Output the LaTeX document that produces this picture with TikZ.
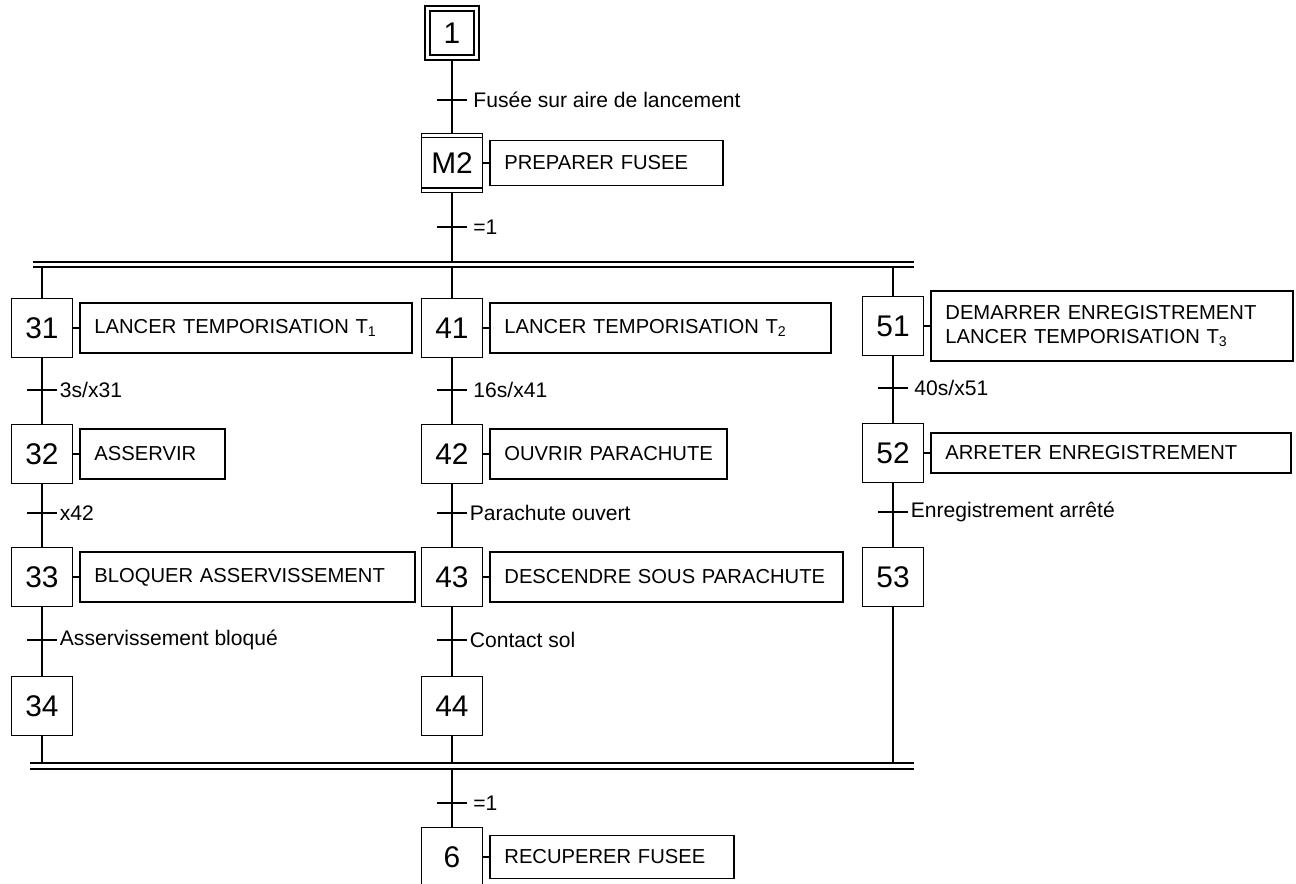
\documentclass[tikz,border=0pt]{standalone}
\usepackage{fontspec}
\setmainfont{Liberation Sans}
\usetikzlibrary{positioning}

\begin{document}
\begin{tikzpicture}[x=0.02cm, y=-0.02cm, line width=1.1pt,
    every node/.style={font=\fontsize{11.5}{13.5}\selectfont},
    etape/.style={rectangle, draw, minimum width=1.22cm, minimum height=1.18cm, inner sep=0pt, font=\fontsize{17}{19}\selectfont},
    initiale/.style={etape, double, double distance=1.6pt, minimum width=0.98cm, minimum height=0.98cm, outer sep=1.9pt},
    action/.style={rectangle, draw, minimum height=1cm, inner xsep=0.28cm, align=left},
    recept/.style={line width=1.3pt},
    cond/.style={right, inner sep=3pt, font=\fontsize{12}{14}\selectfont},
]
\useasboundingbox (0,0) rectangle (1296,884);
\clip (0,0) rectangle (1296,884);

% Etapes
\node[initiale] (s1) at (452,33) {1};
\node[etape] (sM2) at (452,163) {M2};
\node[etape] (s31) at (42,328) {31};
\node[etape] (s32) at (42,454) {32};
\node[etape] (s33) at (42,577) {33};
\node[etape] (s34) at (42,706) {34};
\node[etape] (s41) at (452,328) {41};
\node[etape] (s42) at (452,454) {42};
\node[etape] (s43) at (452,577) {43};
\node[etape] (s44) at (452,706) {44};
\node[etape] (s51) at (893,326) {51};
\node[etape] (s52) at (893,453) {52};
\node[etape] (s53) at (893,577) {53};
\node[etape] (s6) at (452,857) {6};

% Actions
\node[action, right=0.12cm of sM2, text width=4.1cm, minimum height=0.9cm] (aM2) {PREPARER FUSEE};
\node[action, right=0.12cm of s31, text width=6.08cm] (a31) {LANCER TEMPORISATION T\textsubscript{1}};
\node[action, right=0.12cm of s41, text width=6.26cm] (a41) {LANCER TEMPORISATION T\textsubscript{2}};
\node[action, right=0.12cm of s51, text width=6.68cm, minimum height=1.4cm] (a51) {DEMARRER ENREGISTREMENT\\LANCER TEMPORISATION T\textsubscript{3}};
\node[action, right=0.12cm of s32, text width=2.34cm] (a32) {ASSERVIR};
\node[action, right=0.12cm of s42, text width=4.18cm] (a42) {OUVRIR PARACHUTE};
\node[action, right=0.12cm of s52, text width=6.64cm, minimum height=0.8cm] (a52) {ARRETER ENREGISTREMENT};
\node[action, right=0.12cm of s33, text width=6.14cm] (a33) {BLOQUER ASSERVISSEMENT};
\node[action, right=0.12cm of s43, text width=6.5cm] (a43) {DESCENDRE SOUS PARACHUTE};
\node[action, right=0.12cm of s6, text width=4.32cm, minimum height=0.86cm] (a6) {RECUPERER FUSEE};

\foreach \n in {M2, 31, 41, 51, 32, 42, 52, 33, 43, 6}
    \draw (s\n) -- (a\n);

% Transitions
\coordinate (t1) at (452,100);
\coordinate (t2) at (452,227);
\coordinate (t31) at (42,390);
\coordinate (t32) at (42,513);
\coordinate (t33) at (42,640);
\coordinate (t41) at (452,390);
\coordinate (t42) at (452,513);
\coordinate (t43) at (452,640);
\coordinate (t51) at (893,388);
\coordinate (t52) at (893,512);
\coordinate (t6) at (452,803);

% Divergence et convergence en ET
\coordinate (divH) at (452,262);
\coordinate (divB) at (452,267);
\coordinate (convH) at (452,763);
\coordinate (convB) at (452,769);
\draw (33,262) -- (914,262);
\draw (33,267) -- (914,267);
\draw (30,763) -- (914,763);
\draw (30,769) -- (914,769);

% Liaisons
\draw (s1) -- (sM2);
\draw (sM2) -- (divH);
\draw (divB -| s31) -- (s31);
\draw (divB) -- (s41);
\draw (divB -| s51) -- (s51);
\draw (s31) -- (s32);
\draw (s32) -- (s33);
\draw (s33) -- (s34);
\draw (s34) -- (s34 |- convH);
\draw (s41) -- (s42);
\draw (s42) -- (s43);
\draw (s43) -- (s44);
\draw (s44) -- (s44 |- convH);
\draw (s51) -- (s52);
\draw (s52) -- (s53);
\draw (s53) -- (s53 |- convH);
\draw (convB) -- (s6);

% Receptivites
\draw[recept] ([xshift=-0.3cm]t1) -- ([xshift=0.3cm]t1) node[cond] (c1) {Fusée sur aire de lancement};
\draw[recept] ([xshift=-0.3cm]t2) -- ([xshift=0.3cm]t2) node[cond] (c2) {=1};
\draw[recept] ([xshift=-0.3cm]t31) -- ([xshift=0.3cm]t31) node[cond, inner sep=1pt] (c31) {3s/x31};
\draw[recept] ([xshift=-0.3cm]t32) -- ([xshift=0.3cm]t32) node[cond, inner sep=1pt] (c32) {x42};
\draw[recept] ([xshift=-0.3cm]t33) -- ([xshift=0.3cm]t33) node[cond, inner sep=1pt] (c33) {Asservissement bloqué};
\draw[recept] ([xshift=-0.3cm]t41) -- ([xshift=0.3cm]t41) node[cond] (c41) {16s/x41};
\draw[recept] ([xshift=-0.3cm]t42) -- ([xshift=0.3cm]t42) node[cond, inner sep=1pt] (c42) {Parachute ouvert};
\draw[recept] ([xshift=-0.3cm]t43) -- ([xshift=0.3cm]t43) node[cond, inner sep=1pt] (c43) {Contact sol};
\draw[recept] ([xshift=-0.3cm]t51) -- ([xshift=0.3cm]t51) node[cond] (c51) {40s/x51};
\draw[recept] ([xshift=-0.3cm]t52) -- ([xshift=0.3cm]t52) node[cond, inner sep=1pt] (c52) {Enregistrement arrêté};
\draw[recept] ([xshift=-0.3cm]t6) -- ([xshift=0.3cm]t6) node[cond] (c6) {=1};

% Macro-etape
\draw ([yshift=-0.1cm]sM2.north west) -- ([yshift=-0.1cm]sM2.north east);
\draw ([yshift=0.1cm]sM2.south west) -- ([yshift=0.1cm]sM2.south east);

\end{tikzpicture}
\end{document}
